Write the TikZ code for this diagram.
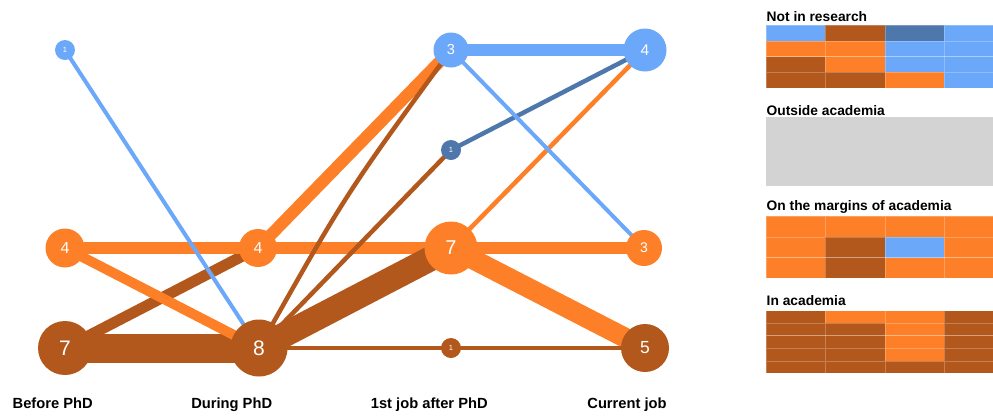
\documentclass[tikz,border=0pt]{standalone}
\usepackage{fontspec}
\setmainfont{Liberation Sans}
\usetikzlibrary{backgrounds}
\definecolor{cLB}{RGB}{107,168,250}
\definecolor{cSB}{RGB}{78,120,172}
\definecolor{cOR}{RGB}{253,128,40}
\definecolor{cBR}{RGB}{178,88,28}
\definecolor{cGR}{RGB}{211,211,211}
\tikzset{
  pnode/.style n args={3}{circle, inner sep=0pt, text=white, fill=#1,
    minimum size=#2, font=\fontsize{#3}{#3}\selectfont},
  flow/.style={line cap=butt},
  axislabel/.style={font=\fontsize{14.7}{15}\selectfont\bfseries, anchor=base},
  paneltitle/.style={font=\fontsize{13.8}{14}\selectfont\bfseries, anchor=base west, inner sep=0pt},
  cell/.style={draw=white, draw opacity=0.25, line width=0.5pt}
}
\begin{document}
\begin{tikzpicture}[x=1pt,y=-1pt]
\useasboundingbox (0,0) rectangle (993,416);
% nodes
\node[pnode={cLB}{20pt}{7.5}] (b1) at (65,50) {1};
\node[pnode={cOR}{39pt}{16}] (b4) at (65,248) {4};
\node[pnode={cBR}{54pt}{21}] (b7) at (65,348) {7};
\node[pnode={cOR}{38pt}{16}] (d4) at (258,248) {4};
\node[pnode={cBR}{57pt}{21}] (d8) at (259,348) {8};
\node[pnode={cLB}{35pt}{14.5}] (f3) at (451,50) {3};
\node[pnode={cSB}{20pt}{7.5}] (f1) at (451,150) {1};
\node[pnode={cOR}{53pt}{20}] (f7) at (451,248) {7};
\node[pnode={cBR}{20pt}{7.5}] (f1b) at (451,348) {1};
\node[pnode={cLB}{43pt}{15.5}] (c4) at (645,50) {4};
\node[pnode={cOR}{36pt}{14}] (c3) at (644,248) {3};
\node[pnode={cBR}{48pt}{17.5}] (c5) at (645,348) {5};
% flows
\begin{scope}[on background layer, flow]
  \draw[cBR, line width=29pt] (b7.center) -- (d8.center);
  \draw[cBR, line width=11pt] (b7.center) -- (d4.center);
  \draw[cOR, line width=10pt] (b4.center) -- (d8.center);
  \draw[cOR, line width=12pt] (b4.center) -- (d4.center);
  \draw[cLB, line width=4pt] (b1.center) -- (d8.center);
  \draw[cOR, line width=12pt] (d4.center) -- (f3.center);
  \draw[cOR, line width=12pt] (d4.center) -- (f7.center);
  \draw[cBR, line width=25pt] (d8.center) -- (f7.center);
  \draw[cBR, line width=4.5pt] (d8.center) .. controls (346,193.6) .. (f3.center);
  \draw[cBR, line width=4.5pt] (d8.center) -- (f1.center);
  \draw[cBR, line width=4.5pt] (d8.center) -- (f1b.center);
  \draw[cLB, line width=11.5pt] (f3.center) -- (c4.center);
  \draw[cSB, line width=4.5pt] (f1.center) -- (c4.center);
  \draw[cOR, line width=4.5pt] (f7.center) -- (c4.center);
  \draw[cOR, line width=12pt] (f7.center) -- (c3.center);
  \draw[cOR, line width=20pt] (f7.center) -- (c5.center);
  \draw[cBR, line width=4.5pt] (f1b.center) -- (c5.center);
  \draw[cLB, line width=4pt] (f3.center) -- (c3.center);
\end{scope}
% axis labels
\node[axislabel] (l1) at (52.7,408.3) {Before PhD};
\node[axislabel] (l2) at (231.7,408.3) {During PhD};
\node[axislabel] (l3) at (429.3,408.3) {1st job after PhD};
\node[axislabel] (l4) at (627,408.3) {Current job};
% right panel
\begin{scope}
\clip (0,0) rectangle (993,416);
\node[paneltitle] (t1) at (766.5,21) {Not in research};
\foreach \row/\clist in {0/{cLB,cBR,cSB,cLB},1/{cOR,cOR,cLB,cLB},2/{cBR,cOR,cLB,cLB},3/{cBR,cBR,cOR,cLB}}{
  \foreach \cc [count=\i from 0] in \clist {
    \filldraw[cell, fill=\cc] (766+59.4*\i, 25+15.83*\row) rectangle ++(59.4,15.83);
  }
}
\node[paneltitle] (t2) at (766.5,115.5) {Outside academia};
\fill[cGR] (766,117.3) rectangle (1000,186);
\node[paneltitle] (t3) at (766.5,210.5) {On the margins of academia};
\foreach \row/\clist in {0/{cOR,cOR,cOR,cOR},1/{cOR,cBR,cLB,cOR},2/{cOR,cBR,cOR,cOR}}{
  \foreach \cc [count=\i from 0] in \clist {
    \filldraw[cell, fill=\cc] (766+59.4*\i, 216+20.77*\row) rectangle ++(59.4,20.77);
  }
}
\node[paneltitle] (t4) at (766.5,305.5) {In academia};
\foreach \row/\clist in {0/{cBR,cOR,cOR,cBR},1/{cBR,cBR,cOR,cBR},2/{cBR,cBR,cOR,cBR},3/{cBR,cBR,cOR,cBR},4/{cBR,cBR,cBR,cBR}}{
  \foreach \cc [count=\i from 0] in \clist {
    \filldraw[cell, fill=\cc] (766+59.4*\i, 310.7+12.52*\row) rectangle ++(59.4,12.52);
  }
}
\end{scope}
\end{tikzpicture}
\end{document}
